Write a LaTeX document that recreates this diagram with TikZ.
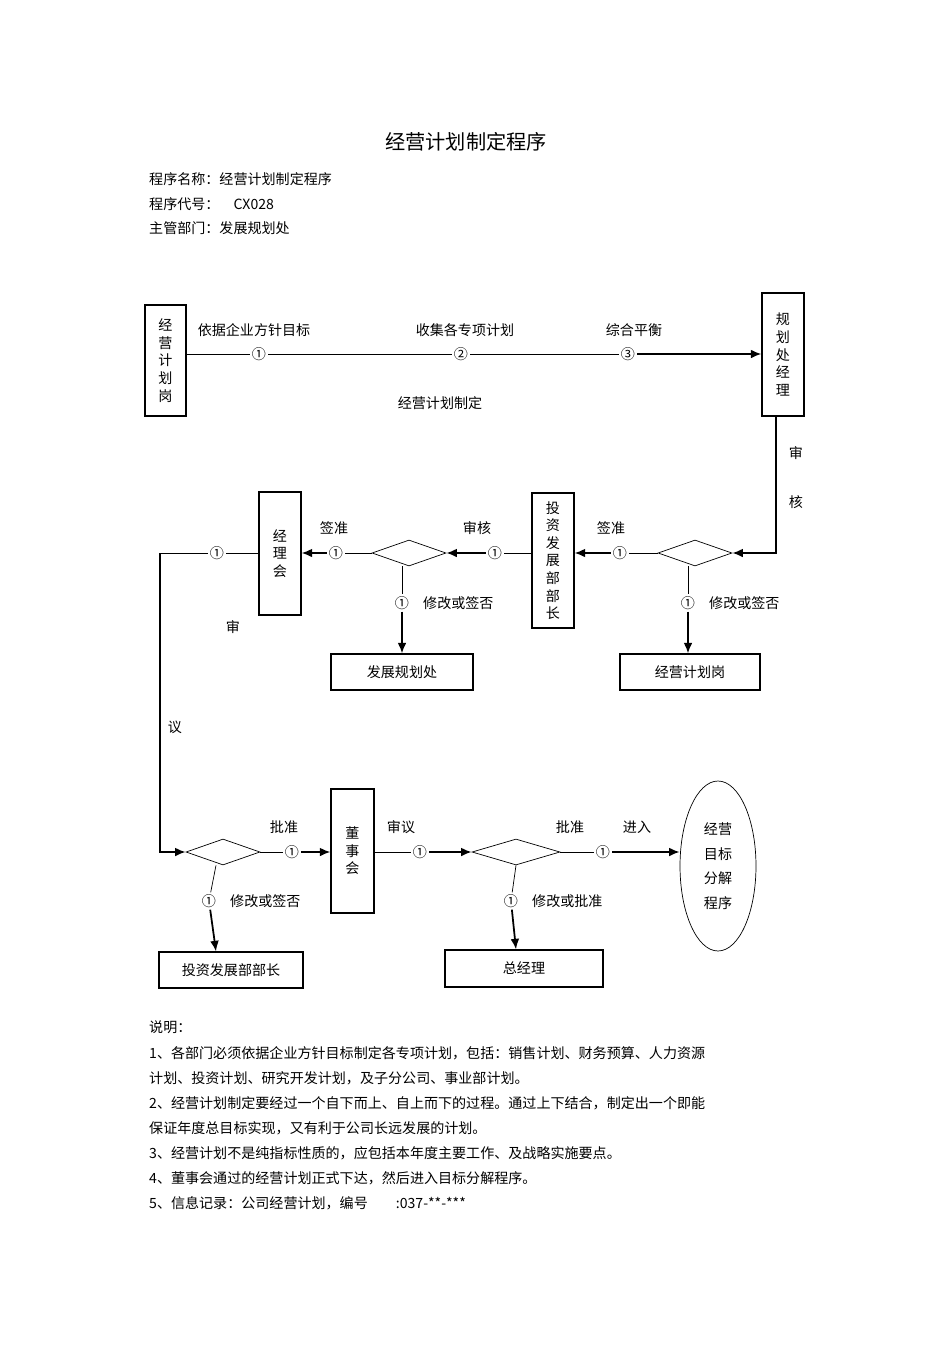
\documentclass[tikz,border=0pt]{standalone}
\usepackage{fontspec}
\setmainfont{Noto Sans CJK SC}
\usetikzlibrary{shapes.geometric,arrows.meta}
\begin{document}
\begin{tikzpicture}[x=0.02cm,y=-0.02cm,font=\fontsize{8}{10}\selectfont]
    \tikzstyle{box}=[draw,line width=0.7pt,inner sep=0pt,align=center]
    \tikzstyle{choice}=[draw,diamond,inner sep=0pt,minimum width=1.48cm,minimum height=0.52cm]
    \tikzstyle{num}=[fill=white,inner sep=1pt]
    \tikzstyle{go}=[line width=1pt,-{Latex[length=6pt,width=5pt]}]
    \useasboundingbox (0,0) rectangle (950,1345);

    % Heading
    \node (title) at (466,142) {\fontsize{11.5}{14}\selectfont 经营计划制定程序};
    \node[anchor=west] (n1) at (143,179) {程序名称：经营计划制定程序};
    \node[anchor=west] (n2) at (143,204) {程序代号：\quad CX028};
    \node[anchor=west] (n3) at (143,228) {主管部门：发展规划处};

    % Boxes
    \node[box,minimum width=0.82cm,minimum height=2.22cm] (jyg) at (165.5,360.5) {经\\营\\计\\划\\岗};
    \node[box,minimum width=0.84cm,minimum height=2.46cm] (ghc) at (783,354.5) {规\\划\\处\\经\\理};
    \node[box,minimum width=0.84cm,minimum height=2.7cm] (tzb) at (553,560.5) {投\\资\\发\\展\\部\\部\\长};
    \node[box,minimum width=0.84cm,minimum height=2.46cm] (jlh) at (280,553.5) {经\\理\\会};
    \node[box,minimum width=0.86cm,minimum height=2.48cm] (dsh) at (352.5,851) {董\\事\\会};
    \node[box,minimum width=2.84cm,minimum height=0.72cm] (fzg) at (402,672) {发展规划处};
    \node[box,minimum width=2.8cm,minimum height=0.72cm] (jyg2) at (690,672) {经营计划岗};
    \node[box,minimum width=2.88cm,minimum height=0.72cm] (tzb2) at (231,970) {投资发展部部长};
    \node[box,minimum width=3.16cm,minimum height=0.74cm] (zjl) at (524,968.5) {总经理};
    \node[draw,ellipse,minimum width=1.52cm,minimum height=3.4cm,align=center] (next) at (718,866)
        {经营\\[4pt]目标\\[4pt]分解\\[4pt]程序};

    % Decisions
    \node[choice] (d1) at (695,553) {};
    \node[choice] (d2) at (409,553) {};
    \node[choice] (d3) at (223,852) {};
    \node[choice,minimum width=1.76cm] (d4) at (516,852) {};

    % Top flow
    \node[num] (c1) at (259,354) {①};
    \node[num] (c2) at (461,354) {②};
    \node[num] (c3) at (628,354) {③};
    \draw (jyg.east|-c1) -- (c1) -- (c2) -- (c3);
    \draw[go] (c3) -- (ghc.west|-c3);
    \node (t1) at (254,330) {依据企业方针目标};
    \node (t2) at (465,330) {收集各专项计划};
    \node (t3) at (634,330) {综合平衡};
    \node (t4) at (440,403) {经营计划制定};

    \coordinate (k1) at (776,553);
    \draw[go] (ghc.south-|k1) -- (k1) -- (d1.east);
    \node (s1) at (796,453) {审};
    \node (s2) at (796,502) {核};

    % Middle row
    \node[num] (m1) at (620,553) {①};
    \draw (d1.west) -- (m1);
    \draw[go] (m1) -- (tzb.east|-m1);
    \node (q1) at (611,528) {签准};
    \node[num] (m2) at (688,603) {①};
    \node[anchor=west] (r1) at (703,603) {修改或签否};
    \draw (d1.south-|m2) -- (m2);
    \draw[go] (m2) -- (jyg2.north-|m2);

    \node[num] (m3) at (495,553) {①};
    \draw (tzb.west|-m3) -- (m3);
    \draw[go] (m3) -- (d2.east);
    \node (q2) at (477,528) {审核};
    \node[num] (m4) at (402,603) {①};
    \node[anchor=west] (r2) at (417,603) {修改或签否};
    \draw (d2.south-|m4) -- (m4);
    \draw[go] (m4) -- (fzg.north-|m4);

    \node[num] (m5) at (336,553) {①};
    \draw (d2.west) -- (m5);
    \draw[go] (m5) -- (jlh.east|-m5);
    \node (q3) at (334,528) {签准};

    \node[num] (m6) at (217,553) {①};
    \coordinate (k2) at (160,553);
    \coordinate (k3) at (160,852);
    \draw (jlh.west|-m6) -- (m6) -- (k2);
    \draw[go] (k2) -- (k3) -- (d3.west);
    \node (s3) at (233,627) {审};
    \node (s4) at (175,727) {议};

    % Bottom row
    \node[num] (b1) at (292,852) {①};
    \draw (d3.east) -- (b1);
    \draw[go] (b1) -- (dsh.west|-b1);
    \node (q4) at (284,827) {批准};
    \node[num] (b2) at (209,901) {①};
    \node[anchor=west] (r3) at (224,901) {修改或签否};
    \coordinate (k4) at (216,901);
    \draw (d3.south-|k4) -- (b2);
    \draw[go] (b2) -- (tzb2.north-|k4);

    \node[num] (b3) at (420,852) {①};
    \draw (dsh.east|-b3) -- (b3);
    \draw[go] (b3) -- (d4.west);
    \node (q5) at (401,827) {审议};
    \node[num] (b4) at (511,901) {①};
    \node[anchor=west] (r4) at (526,901) {修改或批准};
    \coordinate (k5) at (516,901);
    \draw (d4.south) -- (b4);
    \draw[go] (b4) -- (zjl.north-|k5);

    \node[num] (b5) at (603,852) {①};
    \draw (d4.east) -- (b5);
    \draw[go] (b5) -- (next.west|-b5);
    \node (q6) at (570,827) {批准};
    \node (q7) at (637,827) {进入};

    % Notes
    \node[anchor=west] (e0) at (143,1027) {说明：};
    \node[anchor=west] (e1) at (143,1053) {1、各部门必须依据企业方针目标制定各专项计划，包括：销售计划、财务预算、人力资源};
    \node[anchor=west] (e2) at (143,1078) {计划、投资计划、研究开发计划，及子分公司、事业部计划。};
    \node[anchor=west] (e3) at (143,1103) {2、经营计划制定要经过一个自下而上、自上而下的过程。通过上下结合，制定出一个即能};
    \node[anchor=west] (e4) at (143,1128) {保证年度总目标实现，又有利于公司长远发展的计划。};
    \node[anchor=west] (e5) at (143,1153) {3、经营计划不是纯指标性质的，应包括本年度主要工作、及战略实施要点。};
    \node[anchor=west] (e6) at (143,1178) {4、董事会通过的经营计划正式下达，然后进入目标分解程序。};
    \node[anchor=west] (e7) at (143,1203) {5、信息记录：公司经营计划，编号\qquad :037-**-***};
\end{tikzpicture}
\end{document}
